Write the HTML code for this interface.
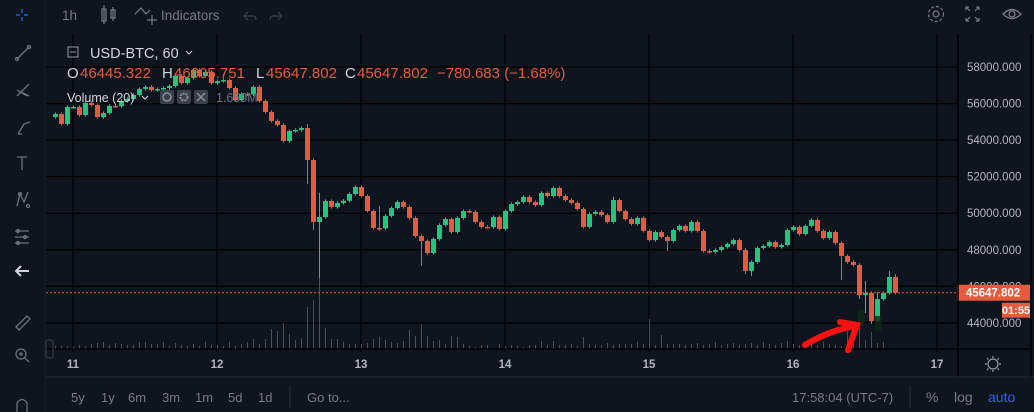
<!DOCTYPE html>
<html><head><meta charset="utf-8">
<style>
html,body{margin:0;padding:0;background:#0f151f;width:1034px;height:412px;overflow:hidden;font-family:"Liberation Sans",sans-serif}
svg{display:block}
text{font-family:"Liberation Sans",sans-serif}
</style></head>
<body>
<svg id="c" width="1034" height="412" viewBox="0 0 1034 412" xmlns="http://www.w3.org/2000/svg">
<rect x="0" y="0" width="1034" height="412" fill="#0f151f"/>
<g id="grid"></g>
<g id="vol"></g>
<g id="candles"></g>
<g id="axis"></g>
<g id="taxis"></g>
</svg>
<script>
const dayLabels=["11","12","13","14","15","16","17"];
const priceTicks=[58000,56000,54000,52000,50000,48000,46000,44000];
const firstOpen=55260;
const closes=[55430,54880,55810,55810,55370,56030,55920,55260,55480,55870,55850,56140,56250,56470,56800,56910,56740,56790,56850,56960,57510,57120,57400,57840,57510,57730,57120,57230,57290,56850,56190,56520,56500,56910,56140,55540,55050,54830,53950,54500,54550,54660,52910,49520,49790,50670,50340,50560,50680,51050,51430,50940,50120,49190,49170,49850,50280,50610,50340,49740,48750,48480,47820,48590,49350,49680,48970,49740,50120,50070,49520,49250,49240,49790,49140,50120,50500,50610,50890,50610,50450,51110,50940,51380,50940,50720,50560,50230,49250,49960,50070,49900,49520,50720,50120,49680,49410,49740,49030,48530,48970,48700,48480,49080,49300,49030,49520,49030,47930,47880,47990,48150,48310,48530,47990,46840,47330,48100,48200,48420,48150,48260,49080,49250,48860,49300,49630,49030,48640,48970,48370,47660,47330,47170,45520,45630,44100,45300,45630,46510,45647.802];
const highOverrides={42:54880,44:51110,54:50400,135:46290,137:45680,140:46670,93:50900,139:46850};
const lowOverrides={42:51600,43:49080,44:46460,54:49030,61:47110,62:47700,102:47930,115:46670,116:46560,131:46340,134:45300,135:44540,136:43940,137:44040};
const volumes=[300,300,250,250,400,250,500,600,700,400,600,500,400,400,700,700,500,500,700,300,600,400,300,500,300,700,400,400,300,700,300,500,700,1000,500,1000,2000,1800,2600,1500,900,1100,4200,4900,7800,2100,1000,1000,700,500,500,500,600,1000,1200,900,700,600,800,1900,1300,2500,1300,800,900,500,1300,1200,500,300,200,400,400,100,500,300,400,300,200,400,400,800,400,800,400,400,500,300,1200,500,400,400,600,400,500,500,500,700,500,3000,400,1400,500,500,500,400,500,600,400,500,700,400,500,600,400,500,600,400,700,500,400,600,800,500,400,600,500,400,700,500,400,300,1800,2200,2200,900,1700,600,700];

const NS="http://www.w3.org/2000/svg";
const plotL=46,plotR=958,plotT=34,plotB=349;
function yP(p){return 67+(58000-p)*0.018275;}
function xI(i){return 55+6*i;}
function xDay(d){return 73+144*d;}
function yV(v){return plotB-v*0.01;}
function mk(tag,attrs,parent){const e=document.createElementNS(NS,tag);for(const k in attrs)e.setAttribute(k,attrs[k]);parent.appendChild(e);return e;}

const grid=document.getElementById('grid');
priceTicks.forEach(p=>{
  const l=mk('line',{x1:plotL,x2:plotR,y1:yP(p),y2:yP(p),stroke:'#000','stroke-width':1.3},grid);
  
  
});
dayLabels.forEach((d,i)=>{
  const l=mk('line',{x1:xDay(i),x2:xDay(i),y1:plotT,y2:plotB+3,stroke:'#000','stroke-width':1.3},grid);
  
  
});

const vol=document.getElementById('vol');
volumes.forEach((v,i)=>{
  const r=mk('rect',{x:xI(i),y:yV(v),width:1,height:plotB-yV(v),fill:'#4a4f5c'},vol);
  
  
});

const cg=document.getElementById('candles');
closes.forEach((c,i)=>{
  const o=i===0?firstOpen:closes[i-1];
  const up=c>=o;
  const col=up?'#22c67b':'#e65a3e';
  const top=Math.max(o,c),bot=Math.min(o,c);
  const hi=highOverrides[i]!==undefined?highOverrides[i]:top+90;
  const lo=lowOverrides[i]!==undefined?lowOverrides[i]:bot-90;
  const x=xI(i);
  const w=mk('rect',{x:x,y:yP(hi),width:1,height:yP(lo)-yP(hi),fill:col},cg);
  
  
  const bh=Math.max(1.5,yP(bot)-yP(top));
  const b=mk('rect',{x:x-2,y:yP(top),width:5,height:bh,fill:col},cg);
  
  
});

const ax=document.getElementById('axis');
priceTicks.forEach(p=>{
  const t=mk('text',{x:967,y:yP(p)+4,fill:'#b2b5be','font-size':11.5},ax);
  t.textContent=p.toFixed(3);
  
  
});
const ta=document.getElementById('taxis');
dayLabels.forEach((d,i)=>{
  const t=mk('text',{x:xDay(i),y:368,fill:'#b2b5be','font-size':11.5,'font-weight':'bold','text-anchor':'middle'},ta);
  t.textContent=d;
  
  
});
const last=closes[closes.length-1];
const pl=mk('line',{x1:plotL,x2:plotR,y1:yP(last),y2:yP(last),stroke:'#e65a3e','stroke-dasharray':'2 2','stroke-width':1},ax);


const lb=mk('rect',{x:957,y:yP(last)-8,width:73,height:16,fill:'#e65a3e'},ax);


const lt=mk('text',{x:993,y:yP(last)+4,fill:'#fff','font-size':11.5,'font-weight':'bold','text-anchor':'middle'},ax);
lt.textContent=last.toFixed(3);


const cb=mk('rect',{x:1002,y:yP(last)+10,width:28,height:15,fill:'#e65a3e'},ax);


const ct=mk('text',{x:1016,y:yP(last)+21.5,fill:'#fff','font-size':11,'font-weight':'bold','text-anchor':'middle'},ax);
ct.textContent='01:55';


</script>
<svg style="position:absolute;left:0;top:0" width="1034" height="412" xmlns="http://www.w3.org/2000/svg">
<line x1="958" y1="34" x2="958" y2="378" stroke="#000" stroke-width="1.5"/>
<line x1="1031" y1="34" x2="1031" y2="378" stroke="#000" stroke-width="1.5"/>
<line x1="46" y1="349" x2="1031" y2="349" stroke="#000" stroke-width="1.5"/>
<line x1="46" y1="377" x2="1034" y2="377" stroke="#2a2e39" stroke-width="1"/>
<g stroke="#6b7280" fill="none" stroke-width="1.3">
 <g stroke="#2962ff"><line x1="16" y1="15" x2="20" y2="15"/><line x1="24" y1="15" x2="28" y2="15"/><line x1="22" y1="9" x2="22" y2="13"/><line x1="22" y1="17" x2="22" y2="21"/></g>
 <g><line x1="17" y1="59" x2="29" y2="47"/><circle cx="17" cy="59" r="1.5"/><circle cx="29" cy="47" r="1.5"/></g>
 <g><path d="M17 96 L29 84 M17 90 L27 96 M21 92 L29 96"/></g>
 <g><path d="M18 134 L24 124 L30 122 M18 134 L22 134"/></g>
 <g><path d="M17 157 H27 M22 157 V170"/></g>
 <g><path d="M17 206 L20 194 L24 202 L28 192"/><circle cx="20" cy="194" r="1.5"/><circle cx="28" cy="206" r="1.5"/></g>
 <g><path d="M15 231 H29 M15 237 H29 M15 243 H29"/><circle cx="18" cy="231" r="1.5"/><circle cx="25" cy="237" r="1.5"/><circle cx="18" cy="243" r="1.5"/></g>
 <g stroke="#d1d4dc" stroke-width="2"><path d="M29 271 H16 M21 266 L16 271 L21 276"/></g>
 <g><path d="M16 327 L27 316 L30 319 L19 330 Z"/></g>
 <g><circle cx="21" cy="354" r="5"/><path d="M25 358 L29 362 M19 354 H23 M21 352 V356"/></g>
 <g><path d="M17 412 V403 Q22 396 27 403 V412"/></g>
</g>
<line x1="45" y1="0" x2="45" y2="412" stroke="#1a1f2b"/>
<text x="62" y="20" fill="#787b86" font-size="13.5">1h</text>
<g stroke="#787b86" fill="none" stroke-width="1.2"><rect x="102" y="9" width="4" height="12"/><line x1="104" y1="5" x2="104" y2="24"/><rect x="111" y="10" width="4" height="8"/><line x1="113" y1="7" x2="113" y2="21"/></g>
<g stroke="#787b86" fill="none" stroke-width="1.2"><path d="M135 14 L141 8 L146 14 L150 10"/><path d="M152 15 V25 M147 20 H157"/></g>
<text x="161" y="20" fill="#787b86" font-size="13.5">Indicators</text>
<g stroke="#3a3f4b" fill="none" stroke-width="1.2"><path d="M244 16 H253 Q256 16 256 20 M244 16 L248 12 M244 16 L248 20"/><path d="M282 16 H273 Q270 16 270 20 M282 16 L278 12 M282 16 L278 20"/></g>
<g stroke="#787b86" fill="none" stroke-width="1.2"><circle cx="936" cy="14" r="3"/><circle cx="936" cy="14" r="7.5" stroke-dasharray="3 2"/></g>
<g stroke="#787b86" fill="none" stroke-width="1.2"><path d="M966 7 L970 11 M966 7 H969 M966 7 V10 M979 7 L975 11 M979 7 H976 M979 7 V10 M966 21 L970 17 M966 21 H969 M966 21 V18 M979 21 L975 17 M979 21 H976 M979 21 V18"/></g>
<g stroke="#787b86" fill="none" stroke-width="1.3"><path d="M1003 14 Q1012 5 1021 14 Q1012 23 1003 14 Z"/><circle cx="1012" cy="14" r="3"/></g>
<g>
<rect x="68" y="47" width="10" height="10" fill="none" stroke="#9598a1" stroke-width="1"/>
<line x1="70" y1="52" x2="76" y2="52" stroke="#9598a1"/>
<text x="90" y="58" fill="#d1d4dc" font-size="14.5">USD-BTC, 60</text>
<path d="M186 51 L189 54 L192 51" stroke="#d1d4dc" fill="none"/>
<g font-size="15">
<text x="67" y="78" fill="#d1d4dc">O</text><text x="80" y="78" fill="#e65a3e">46445.322</text>
<text x="162" y="78" fill="#d1d4dc">H</text><text x="174" y="78" fill="#e65a3e">46605.751</text>
<text x="256" y="78" fill="#d1d4dc">L</text><text x="266" y="78" fill="#e65a3e">45647.802</text>
<text x="345" y="78" fill="#d1d4dc">C</text><text x="357" y="78" fill="#e65a3e">45647.802</text>
<text x="437" y="78" fill="#e65a3e">−780.683 (−1.68%)</text>
</g>
<text x="67" y="102" fill="#d1d4dc" font-size="12.5">Volume (20)</text>
<path d="M142 96 L145 99 L148 96" stroke="#d1d4dc" fill="none"/>
<rect x="160" y="90" width="14" height="14" rx="2" fill="#3a3f4b"/>
<circle cx="167" cy="97" r="4" fill="none" stroke="#8a8e99" stroke-width="1.5"/>
<rect x="177" y="90" width="14" height="14" rx="2" fill="#3a3f4b"/>
<circle cx="184" cy="97" r="3.5" fill="none" stroke="#8a8e99" stroke-width="2" stroke-dasharray="2 1"/>
<rect x="194" y="90" width="14" height="14" rx="2" fill="#3a3f4b"/>
<path d="M197 93 L205 101 M205 93 L197 101" stroke="#8a8e99" stroke-width="1.5"/>
<text x="216" y="102" fill="#6b7080" font-size="12.5">1.659M</text>
</g>
<rect x="858" y="310" width="6" height="16" fill="#0b2a12" opacity="0.8"/>
<rect x="875" y="316" width="7" height="15" fill="#0b2a12" opacity="0.8"/>
<path d="M805 345 Q830 330 855 326 M840 322 L857 325 L848 350" stroke="#ff1010" stroke-width="6" fill="none" stroke-linecap="round"/>
<g stroke="#9598a1" fill="none" stroke-width="1.2"><circle cx="993" cy="364" r="5"/><path d="M993 356 V358 M993 370 V372 M985 364 H987 M999 364 H1001 M987 358 L988.5 359.5 M999 358 L997.5 359.5 M987 370 L988.5 368.5 M999 370 L997.5 368.5"/></g>
<rect x="46" y="340" width="7" height="18" rx="2" fill="none" stroke="#3a3f4b"/>
<g font-size="13" fill="#787b86">
<text x="71" y="402">5y</text>
<text x="101" y="402">1y</text>
<text x="128" y="402">6m</text>
<text x="162" y="402">3m</text>
<text x="195" y="402">1m</text>
<text x="228" y="402">5d</text>
<text x="258" y="402">1d</text>
<text x="307" y="402">Go to...</text>
<text x="792" y="402">17:58:04 (UTC-7)</text>
<text x="926" y="402" font-size="14">%</text>
<text x="954" y="402" font-size="14">log</text>
<text x="988" y="402" font-size="14" fill="#2962ff">auto</text>
</g>
<line x1="290" y1="386" x2="290" y2="408" stroke="#2a2e39"/>
<line x1="910" y1="386" x2="910" y2="408" stroke="#2a2e39"/>
</svg>
</body></html>
